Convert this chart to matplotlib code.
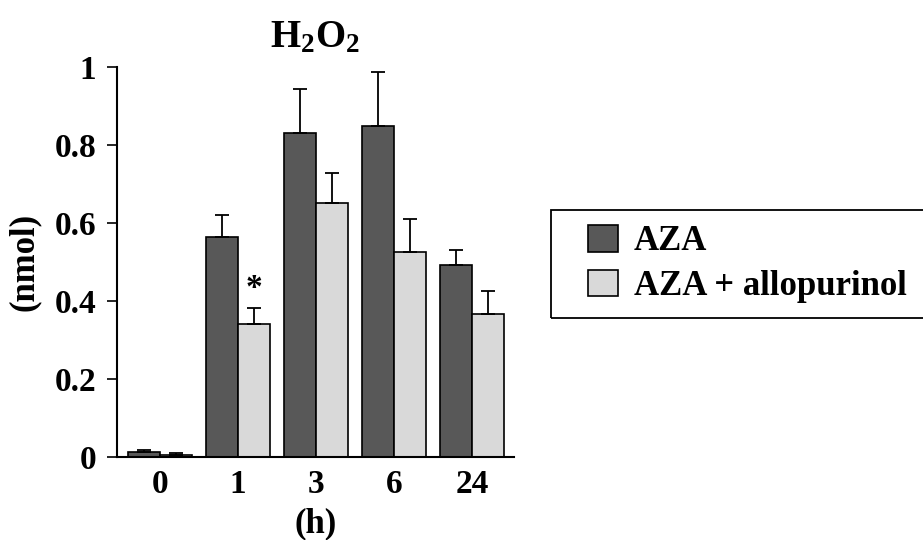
import numpy as np
import matplotlib
matplotlib.use("Agg")
import matplotlib.pyplot as plt
from matplotlib.patches import Rectangle

#data
hours = ["0", "1", "3", "6", "24"]
aza = [0.012, 0.563, 0.83, 0.848, 0.493]
aza_err = [0.006, 0.058, 0.113, 0.14, 0.037]
allo = [0.005, 0.34, 0.652, 0.525, 0.366]
allo_err = [0.004, 0.041, 0.075, 0.085, 0.06]
series_names = ["AZA", "AZA + allopurinol"]

#fonts (Times-like bold serif everywhere)
plt.rcParams["font.family"] = ["Liberation Serif", "DejaVu Serif"]
plt.rcParams["font.weight"] = "bold"
plt.rcParams["mathtext.fontset"] = "custom"
plt.rcParams["mathtext.rm"] = "Liberation Serif:bold"
plt.rcParams["mathtext.bf"] = "Liberation Serif:bold"

fig = plt.figure(figsize=(9.23, 5.4), dpi=100)
ax = fig.add_axes([117 / 923, 83.3 / 540, (514 - 117) / 923, (456.7 - 67) / 540])

x = np.arange(len(hours))
w = 0.41
err_kw = dict(ecolor="black", elinewidth=1.3, capsize=5, capthick=1.3)
ax.bar(x - w / 2, aza, w, color="#585858", edgecolor="black", linewidth=1.2,
       yerr=[np.zeros(len(aza)), aza_err], error_kw=err_kw, label=series_names[0])
ax.bar(x + w / 2, allo, w, color="#d9d9d9", edgecolor="black", linewidth=1.2,
       yerr=[np.zeros(len(allo)), allo_err], error_kw=err_kw, label=series_names[1])

#significance mark
ax.text(x[1] + w / 2, allo[1] + allo_err[1] + 0.01, "*", ha="center", va="bottom",
        fontsize=24, fontweight="bold")

ax.set_xlim(-0.55, 4.54)
ax.set_ylim(0, 1)
ax.set_yticks([0, 0.2, 0.4, 0.6, 0.8, 1])
ax.set_yticklabels(["0", "0.2", "0.4", "0.6", "0.8", "1"])
ax.set_xticks(x)
ax.set_xticklabels(hours)
ax.tick_params(axis="y", length=7, width=1.2, pad=8, labelsize=24)
ax.tick_params(axis="x", length=0, pad=9, labelsize=24)
for s in ["top", "right"]:
    ax.spines[s].set_visible(False)
for s in ["left", "bottom"]:
    ax.spines[s].set_linewidth(1.5)

ax.set_xlabel("(h)", fontsize=25, fontweight="bold", labelpad=5)
ax.set_ylabel("(nmol)", fontsize=25, fontweight="bold", labelpad=10)
ax.set_title(r"$\mathrm{H_2O_2}$", fontsize=28, pad=14)

#legend frame drawn separately so the entries can sit indented inside it
fig.patches.append(Rectangle((551 / 923, 222 / 540), 380 / 923, 108 / 540,
                             transform=fig.transFigure, fill=False,
                             edgecolor="black", linewidth=1.3))
leg = fig.legend(loc="center left", bbox_to_anchor=(588 / 923, 276 / 540),
                 frameon=False, fontsize=25, handlelength=0.87, handleheight=0.8,
                 handletextpad=0.45, labelspacing=0.32, borderpad=0, borderaxespad=0)

fig.savefig("out.png", dpi=100)
